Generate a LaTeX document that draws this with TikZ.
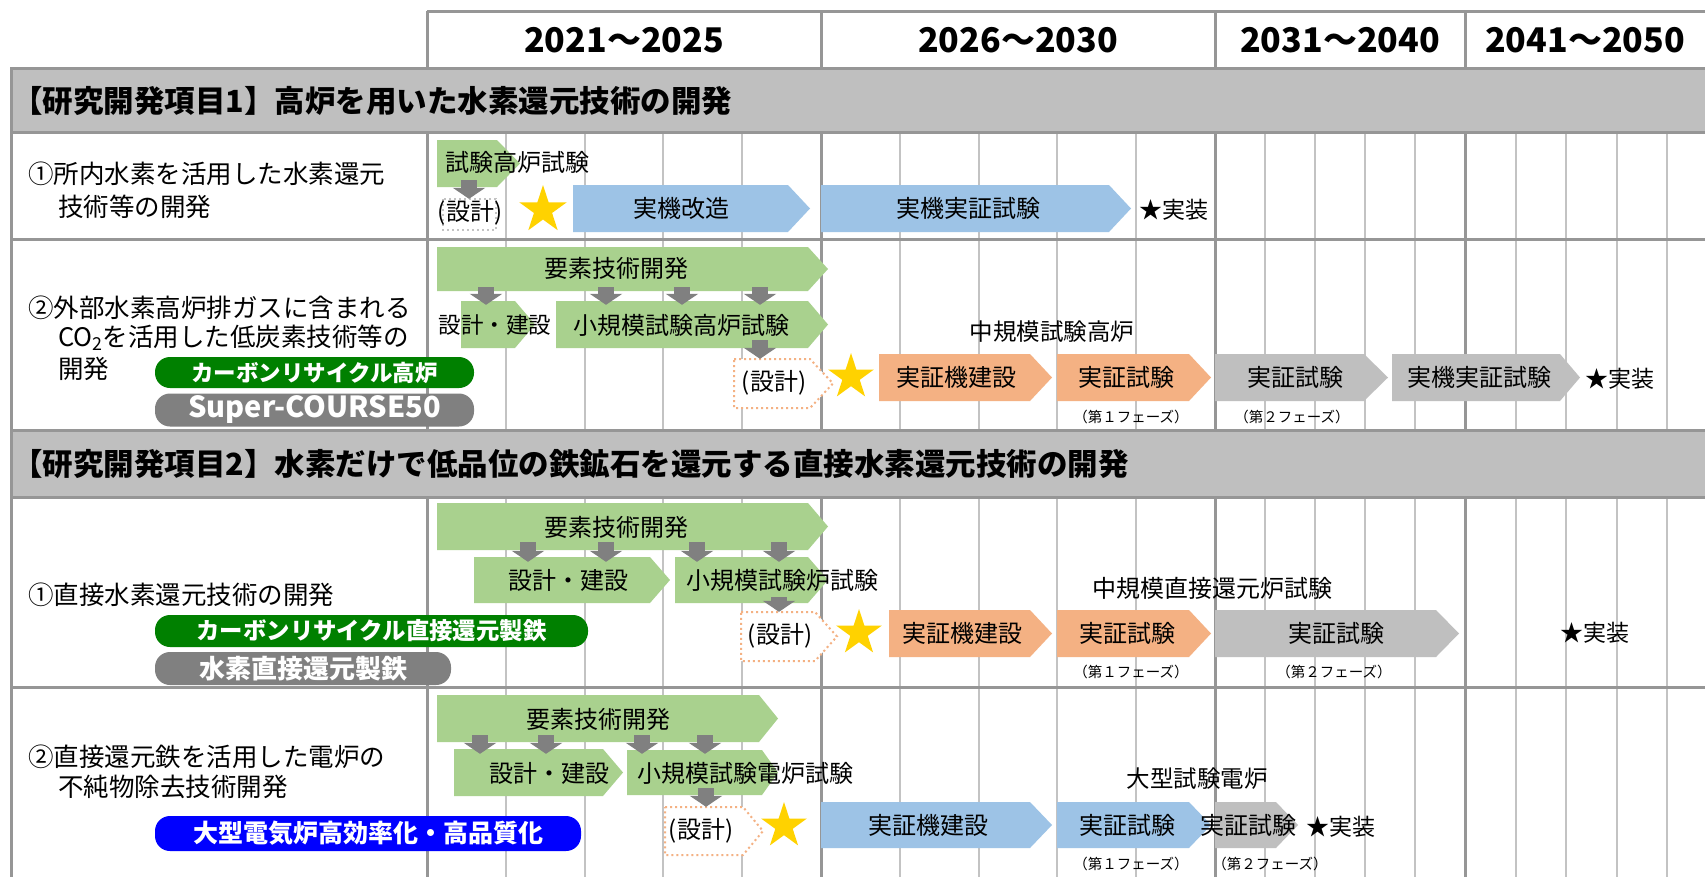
\documentclass[tikz,border=0pt]{standalone}
\usepackage{fontspec}
\setmainfont{Noto Sans CJK JP}
\usetikzlibrary{arrows.meta,shapes.geometric,calc}
\definecolor{lgreen}{RGB}{169,209,142}
\definecolor{lblue}{RGB}{157,195,230}
\definecolor{lorange}{RGB}{244,177,131}
\definecolor{lgrayb}{RGB}{191,191,191}
\definecolor{dgray}{RGB}{128,128,128}
\definecolor{gridA}{RGB}{150,150,150}
\definecolor{gridB}{RGB}{195,195,195}
\definecolor{pgreen}{RGB}{0,128,0}
\definecolor{pblue}{RGB}{0,0,255}
\definecolor{starY}{RGB}{255,210,0}
\newcommand{\jfs}[1]{\fontsize{#1}{#1}\selectfont}
\newcommand{\penta}[7]{%
  \pgfmathsetmacro{\penxa}{#4-#6}%
  \pgfmathsetmacro{\penmx}{(#2+#4-#6)/2}%
  \pgfmathsetmacro{\penmy}{(#3+#5)/2}%
  \pgfmathsetmacro{\penw}{#4-#6-#2}%
  \pgfmathsetmacro{\penh}{#5-#3}%
  \path[#7] (#2,#3) -- (\penxa,#3) -- (#4,\penmy) -- (\penxa,#5) -- (#2,#5) -- cycle;%
  \node[inner sep=0pt, minimum width=\penw pt, minimum height=\penh pt] (#1) at (\penmx,\penmy) {};%
}
\newcommand{\downarr}[5]{%
  \coordinate (tmpx) at (#3,0);%
  \draw[darrow] ($(#1.south -| tmpx)+(0,-#4)$) -- ($(#2.north -| tmpx)+(0,#5)$);%
}
\begin{document}
\begin{tikzpicture}[x=1pt,y=-1pt,
  major/.style={draw=gridA, line width=3pt},
  minor/.style={draw=gridB, line width=1.5pt},
  band/.style={fill=lgrayb, draw=gridA, line width=3pt},
  darrow/.style={draw=dgray, line width=16pt, -{Triangle[width=32pt,length=11pt]}},
  odot/.style={draw=lorange, line width=2pt, dash pattern=on 2pt off 3pt, fill=white},
  gdot/.style={draw=gridB, line width=2pt, dash pattern=on 2pt off 3pt},
  lbl/.style={inner sep=0pt, font=\jfs{24}},
  small/.style={inner sep=0pt, font=\jfs{14.5}},
  rowlbl/.style={inner sep=0pt, anchor=west, font=\jfs{25.5}},
  yr/.style={inner sep=0pt, font=\bfseries\jfs{34}},
  bandtxt/.style={inner sep=0pt, anchor=west, font=\bfseries\jfs{30.5}},
  pill/.style={rounded corners=15pt, inner sep=0pt, text=white, font=\bfseries\jfs{24}},
  ystar/.style={star, star points=5, star point ratio=2.618, fill=starY, inner sep=0pt}
]
\useasboundingbox (0,0) rectangle (1705,876);
\fill[white] (0,0) rectangle (1705,876);

% ---------- grid ----------
\foreach \x in {506,585,663,742,900,979,1057,1136,1265,1315,1365,1415,1516,1566,1617,1667} {
  \draw[minor] (\x,132) -- (\x,430);
  \draw[minor] (\x,497) -- (\x,880);
}
\foreach \x in {427,821,1215,1465} {
  \draw[major] (\x,132) -- (\x,430);
  \draw[major] (\x,497) -- (\x,880);
  \draw[major] (\x,11) -- (\x,68);
}
\draw[major] (427,11) -- (1710,11);
\draw[major] (11,239) -- (1710,239);
\draw[major] (11,687) -- (1710,687);
\draw[major] (11,132) -- (11,430);
\draw[major] (11,497) -- (11,880);
\path[band] (11,68) rectangle (1712,132);
\path[band] (11,430) rectangle (1712,497);

% ---------- headers ----------
\node[yr] (y1) at (624,40) {2021～2025};
\node[yr] (y2) at (1018,40) {2026～2030};
\node[yr] (y3) at (1340,40) {2031～2040};
\node[yr] (y4) at (1585,40) {2041～2050};
\node[bandtxt] (t1) at (12,101) {【研究開発項目1】高炉を用いた水素還元技術の開発};
\node[bandtxt] (t2) at (12,464) {【研究開発項目2】水素だけで低品位の鉄鉱石を還元する直接水素還元技術の開発};

% ---------- left labels ----------
\node[rowlbl] (l1a) at (28,174) {①所内水素を活用した水素還元};
\node[rowlbl] (l1b) at (58,207) {技術等の開発};
\node[rowlbl] (l2a) at (28,308) {②外部水素高炉排ガスに含まれる};
\node[rowlbl] (l2b) at (58,338) {CO\textsubscript{2}を活用した低炭素技術等の};
\node[rowlbl] (l2c) at (58,369) {開発};
\node[rowlbl] (l3a) at (28,595) {①直接水素還元技術の開発};
\node[rowlbl] (l4a) at (28,757) {②直接還元鉄を活用した電炉の};
\node[rowlbl] (l4b) at (58,787) {不純物除去技術開発};

\node[pill, fill=pgreen, minimum width=319pt, minimum height=31pt, font=\bfseries\jfs{22.5}] (p1) at (314.5,372.5) {カーボンリサイクル高炉};
\node[pill, fill=dgray, minimum width=319pt, minimum height=33pt, font=\bfseries\jfs{29}] (p2) at (314.5,410) {Super-COURSE50};
\node[pill, fill=pgreen, minimum width=433pt, minimum height=32pt, font=\bfseries\jfs{23.4}] (p3) at (371.5,631) {カーボンリサイクル直接還元製鉄};
\node[pill, fill=dgray, minimum width=296pt, minimum height=33pt, font=\bfseries\jfs{26}] (p4) at (303,668.5) {水素直接還元製鉄};
\node[pill, fill=pblue, minimum width=426pt, minimum height=35pt, font=\bfseries\jfs{25}] (p5) at (368,833.5) {大型電気炉高効率化・高品質化};

% ---------- row 1 ----------
\penta{aA}{437}{140}{520}{187}{23}{fill=lgreen}
\path[gdot] (443,199) rectangle (496,230);
\node[inner sep=0pt, minimum width=53pt, minimum height=31pt] (aB) at (469.5,214.5) {};
\penta{aC}{573}{185}{810}{232}{22}{fill=lblue}
\penta{aD}{821}{185}{1131}{232}{22}{fill=lblue}
\node[ystar, minimum size=50pt] (aS) at (543,210) {};
\downarr{aA}{aB}{469}{7}{0}
\node[lbl, anchor=west] (aAt) at (445,162) {試験高炉試験};
\node[lbl] (aBt) at (470,213) {(設計)};
\node[lbl] (aCt) at (681,208) {実機改造};
\node[lbl] (aDt) at (968,208) {実機実証試験};
\node[lbl, font=\jfs{23}] (aE) at (1174,210) {★実装};

% ---------- row 2 ----------
\penta{bA}{437}{247}{828}{291}{20}{fill=lgreen}
\penta{bB}{461}{301}{535}{348}{20}{fill=lgreen}
\penta{bC}{556}{301}{828}{348}{20}{fill=lgreen}
\penta{bD}{734}{359}{833}{408}{23}{odot}
\penta{bE}{879}{354}{1052}{401}{22}{fill=lorange}
\penta{bF}{1057}{354}{1211}{401}{22}{fill=lorange}
\penta{bG}{1215}{354}{1388}{401}{24}{fill=lgrayb}
\penta{bH}{1392}{354}{1580}{401}{20}{fill=lgrayb}
\node[ystar, minimum size=48pt] (bS) at (851,377) {};
\downarr{bA}{bB}{486}{4}{4}
\downarr{bA}{bC}{606}{4}{4}
\downarr{bA}{bC}{682}{4}{4}
\downarr{bA}{bC}{760}{4}{4}
\downarr{bC}{bD}{760}{8}{0}
\node[lbl] (bAt) at (616,268) {要素技術開発};
\node[lbl, font=\jfs{22.5}] (bBt) at (495,325) {設計・建設};
\node[lbl] (bCt) at (681,325) {小規模試験高炉試験};
\node[lbl] (bDt) at (774,383) {(設計)};
\node[lbl] (bEt) at (956,377) {実証機建設};
\node[lbl] (bFt) at (1126,377) {実証試験};
\node[lbl] (bGt) at (1295,377) {実証試験};
\node[lbl] (bHt) at (1479,377) {実機実証試験};
\node[lbl, font=\jfs{23.5}] (bI) at (1052,332) {中規模試験高炉};
\node[small] (bJ) at (1131,417) {（第１フェーズ）};
\node[small] (bK) at (1292,417) {（第２フェーズ）};
\node[lbl, font=\jfs{23}] (bL) at (1620,379) {★実装};

% ---------- row 3 ----------
\penta{cA}{437}{503}{828}{550}{20}{fill=lgreen}
\penta{cB}{474}{557}{670}{603}{20}{fill=lgreen}
\penta{cC}{675}{557}{828}{603}{20}{fill=lgreen}
\penta{cD}{741}{612}{837}{661}{22}{odot}
\penta{cE}{889}{610}{1052}{657}{22}{fill=lorange}
\penta{cF}{1057}{610}{1211}{657}{22}{fill=lorange}
\penta{cG}{1215}{610}{1459}{657}{23}{fill=lgrayb}
\node[ystar, minimum size=48pt] (cS) at (859,633) {};
\downarr{cA}{cB}{528}{8}{5}
\downarr{cA}{cB}{606}{8}{5}
\downarr{cA}{cC}{697}{8}{5}
\downarr{cA}{cC}{779}{8}{5}
\downarr{cC}{cD}{779}{6}{0}
\node[lbl] (cAt) at (616,527) {要素技術開発};
\node[lbl] (cBt) at (568,580) {設計・建設};
\node[lbl, anchor=west] (cCt) at (686,580) {小規模試験炉試験};
\node[lbl] (cDt) at (780,636) {(設計)};
\node[lbl] (cEt) at (962,633) {実証機建設};
\node[lbl] (cFt) at (1127,633) {実証試験};
\node[lbl] (cGt) at (1336,633) {実証試験};
\node[lbl] (cH) at (1212,588) {中規模直接還元炉試験};
\node[small] (cJ) at (1131,672) {（第１フェーズ）};
\node[small] (cK) at (1334,672) {（第２フェーズ）};
\node[lbl, font=\jfs{23}] (cL) at (1595,633) {★実装};

% ---------- row 4 ----------
\penta{dA}{437}{695}{778}{742}{19}{fill=lgreen}
\penta{dB}{454}{749}{623}{796}{20}{fill=lgreen}
\penta{dC}{627}{750}{778}{795}{16}{fill=lgreen}
\penta{dD}{665}{807}{763}{855}{20}{odot}
\penta{dE}{821}{802}{1052}{848}{22}{fill=lblue}
\penta{dF}{1057}{802}{1211}{848}{22}{fill=lblue}
\penta{dG}{1215}{802}{1298}{848}{22}{fill=lgrayb}
\node[ystar, minimum size=48pt] (dS) at (784,826) {};
\downarr{dA}{dB}{480}{7}{5}
\downarr{dA}{dB}{546}{7}{5}
\downarr{dA}{dC}{642}{7}{4}
\downarr{dA}{dC}{705}{7}{4}
\downarr{dC}{dD}{706}{7}{0}
\node[lbl] (dAt) at (598,719) {要素技術開発};
\node[lbl] (dBt) at (549,773) {設計・建設};
\node[lbl, anchor=west] (dCt) at (637,773) {小規模試験電炉試験};
\node[lbl] (dDt) at (701,831) {(設計)};
\node[lbl] (dEt) at (928,825) {実証機建設};
\node[lbl] (dFt) at (1127,825) {実証試験};
\node[lbl] (dGt) at (1248,825) {実証試験};
\node[lbl, font=\jfs{23.5}] (dH) at (1197,779) {大型試験電炉};
\node[small] (dJ) at (1131,864) {（第１フェーズ）};
\node[small] (dK) at (1270,864) {（第２フェーズ）};
\node[lbl, font=\jfs{23}] (dL) at (1341,827) {★実装};
\end{tikzpicture}
\end{document}
